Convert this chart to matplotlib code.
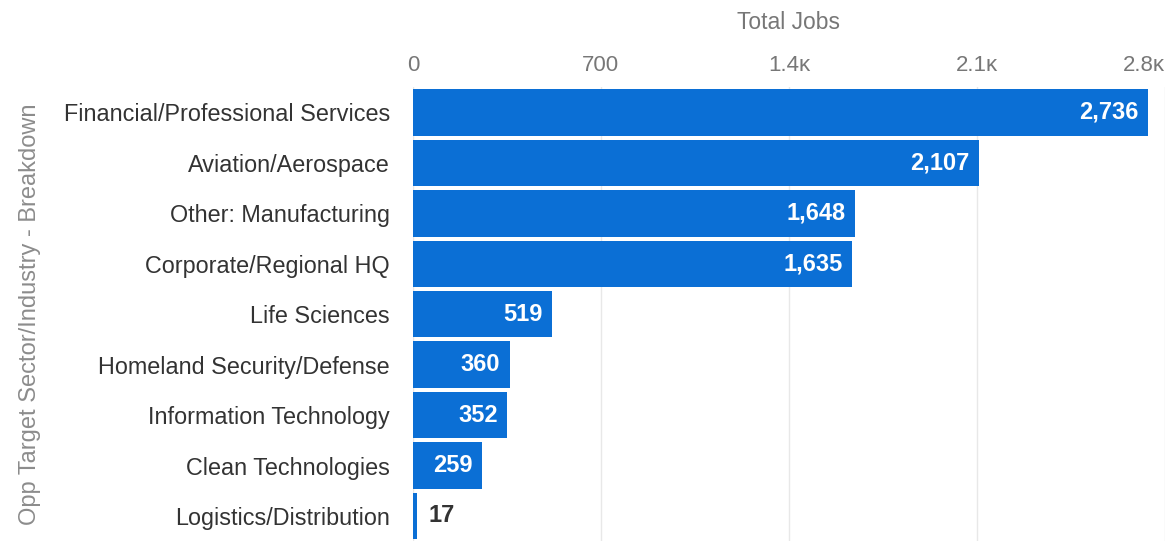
import matplotlib.pyplot as plt
import numpy as np

plt.rcParams['font.family'] = ['Liberation Sans', 'DejaVu Sans']

sectors = ["Financial/Professional Services", "Aviation/Aerospace", "Other: Manufacturing",
           "Corporate/Regional HQ", "Life Sciences", "Homeland Security/Defense",
           "Information Technology", "Clean Technologies", "Logistics/Distribution"]
jobs = [2736, 2107, 1648, 1635, 519, 360, 352, 259, 17]
ticks = [0, 700, 1400, 2100, 2800]
tick_labels = ["0", "700", "1.4ᴋ", "2.1ᴋ", "2.8ᴋ"]

fig = plt.figure(figsize=(11.73, 5.45), dpi=100)
ax = fig.add_axes([0.352, 0.007, 0.641, 0.833])

y = np.arange(len(sectors))
ax.barh(y, jobs, height=0.92, color="#0b6fd5", zorder=3)
ax.set_ylim(len(sectors) - 0.5, -0.5)
ax.set_xlim(0, 2800)

ax.set_yticks(y)
ax.set_yticklabels(sectors, fontsize=16.8, color="#333333")
ax.xaxis.tick_top()
ax.xaxis.set_label_position("top")
ax.set_xticks(ticks)
ax.set_xticklabels(tick_labels, fontsize=16, color="#777777")
ax.get_xticklabels()[-1].set_horizontalalignment("right")
ax.tick_params(axis="y", length=0, pad=16.5)
ax.tick_params(axis="x", length=0, pad=8)
ax.set_xlabel("Total Jobs", fontsize=16.5, color="#777777", labelpad=19)
ax.set_ylabel("Opp Target Sector/Industry - Breakdown", fontsize=17, color="#8c8c8c")
ax.yaxis.set_label_coords(-0.495, 0.5)

ax.grid(axis="x", color="#e8e8e8", linewidth=1, zorder=0)
for s in ax.spines.values():
    s.set_visible(False)

for i, v in enumerate(jobs):
    if v > 150:
        ax.text(v - 35, i, f"{v:,}", ha="right", va="center", color="white",
                fontsize=17, fontweight="bold", zorder=4)
    else:
        ax.text(v + 40, i, f"{v:,}", ha="left", va="center", color="#333333",
                fontsize=17, fontweight="bold", zorder=4)

fig.savefig("out.png", dpi=100)
